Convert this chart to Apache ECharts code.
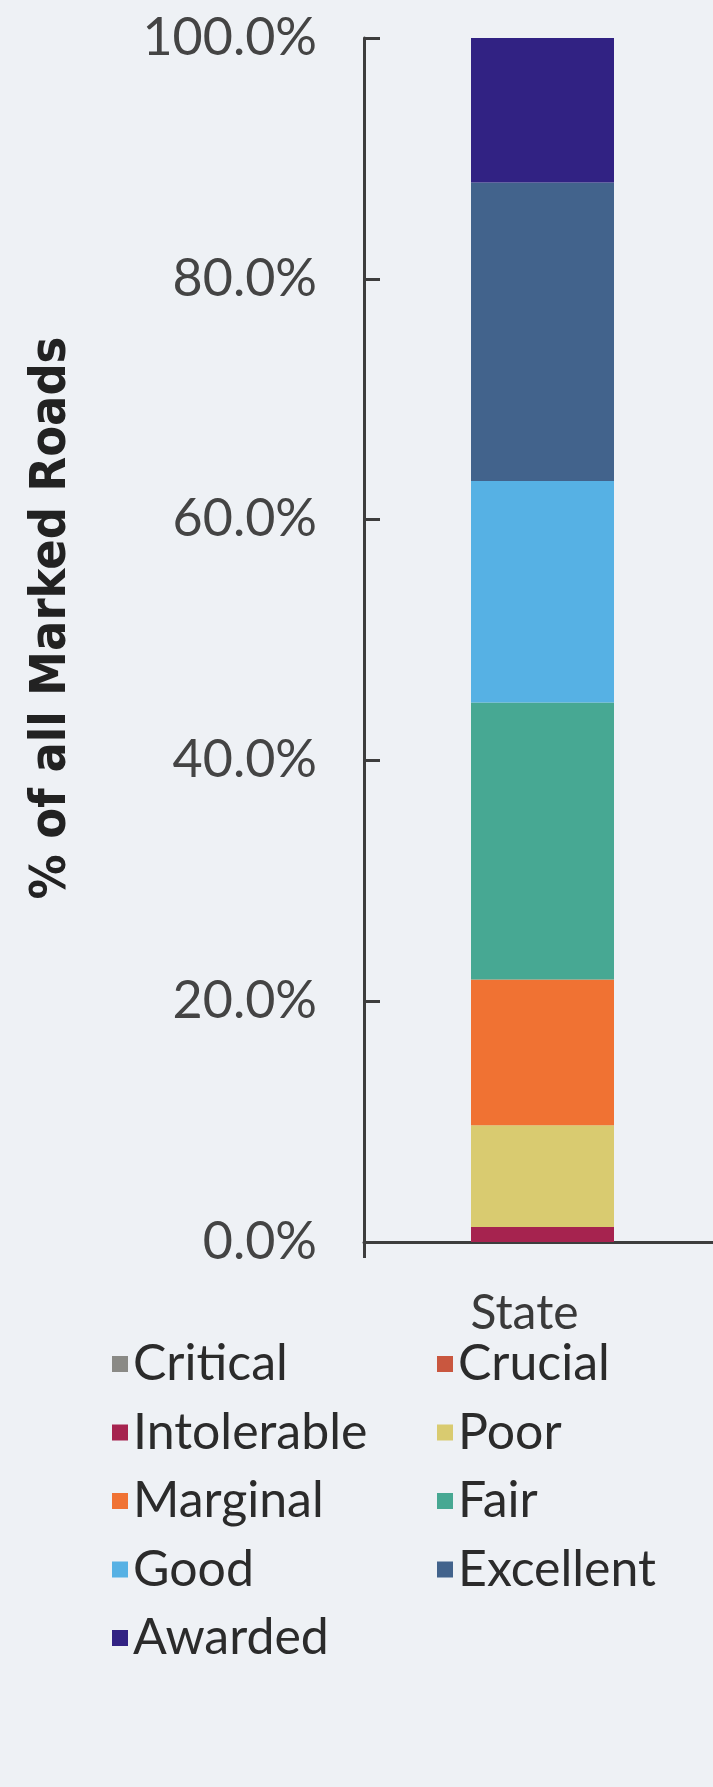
<!DOCTYPE html>
<html>
<head>
<meta charset="utf-8">
<title>% of all Marked Roads — State</title>
<script src="https://cdn.jsdelivr.net/npm/echarts@6/dist/echarts.min.js"></script>
<style>
  html, body { margin: 0; padding: 0; background: #eef1f5; }
  #chart { width: 713px; height: 1787px; }
</style>
</head>
<body>
<div id="chart"></div>
<script>
// Road condition shares for the state, bottom to top of the stack (percent)
const categories = ['State'];
const conditionNames = ['Critical', 'Crucial', 'Intolerable', 'Poor', 'Marginal', 'Fair', 'Good', 'Excellent', 'Awarded'];
const conditionShares = [0, 0, 1.25, 8.45, 12.1, 23.0, 18.4, 24.8, 12.0];
const conditionColors = ['#8a8a86', '#c9573f', '#a6234f', '#d9cb70', '#f07233', '#47a893', '#56b1e4', '#42638c', '#312283'];
const yTicks = { min: 0, max: 100, interval: 20 };

const leftColumn = ['Critical', 'Intolerable', 'Marginal', 'Good', 'Awarded'];
const rightColumn = ['Crucial', 'Poor', 'Fair', 'Excellent'];

const labelFont = 'Lato, "Open Sans", sans-serif';
const axisColor = '#3d3d3d';

const chart = echarts.init(document.getElementById('chart'), null, { renderer: 'canvas' });

const series = conditionNames.map((name, i) => ({
  name: name,
  type: 'bar',
  stack: 'total',
  barWidth: 143,
  itemStyle: { color: conditionColors[i] },
  data: [conditionShares[i]]
}));

function legendColumn(names, left) {
  return {
    orient: 'vertical',
    left: left,
    top: 1334,
    data: names,
    icon: 'rect',
    itemWidth: 16,
    itemHeight: 16,
    itemGap: 18.5,
    selectedMode: false,
    textStyle: { fontFamily: labelFont, fontSize: 50, color: '#2b2b2b', lineHeight: 50 }
  };
}

chart.setOption({
  backgroundColor: '#eef1f5',
  animation: false,
  // the plot area runs on past the right edge of the page
  grid: { left: 364, right: -8, top: 38, bottom: 545, outerBoundsMode: 'none' },
  legend: [legendColumn(leftColumn, 107), legendColumn(rightColumn, 432)],
  xAxis: {
    type: 'category',
    data: categories,
    axisLine: { lineStyle: { color: axisColor, width: 3 } },
    axisTick: { show: true, length: 16, lineStyle: { color: axisColor, width: 3 } },
    axisLabel: { fontFamily: labelFont, fontSize: 48, color: '#3a3a3a', margin: 48, padding: [0, 36, 0, 0] }
  },
  yAxis: {
    type: 'value',
    min: yTicks.min,
    max: yTicks.max,
    interval: yTicks.interval,
    name: '% of all Marked Roads',
    nameLocation: 'middle',
    nameRotate: 90,
    nameGap: 287,
    nameTextStyle: {
      fontFamily: '"DejaVu Sans Condensed", "DejaVu Sans", sans-serif',
      fontWeight: 'bold',
      fontSize: 50,
      color: '#222',
      padding: [0, 0, 0, 44]
    },
    splitLine: { show: false },
    axisLine: { show: true, lineStyle: { color: axisColor, width: 3 } },
    axisTick: { show: true, inside: true, length: 16, lineStyle: { color: axisColor, width: 3 } },
    axisLabel: {
      fontFamily: labelFont,
      fontSize: 52,
      color: '#444',
      margin: 47,
      formatter: v => v.toFixed(1) + '%'
    }
  },
  series: series
});
</script>
</body>
</html>
